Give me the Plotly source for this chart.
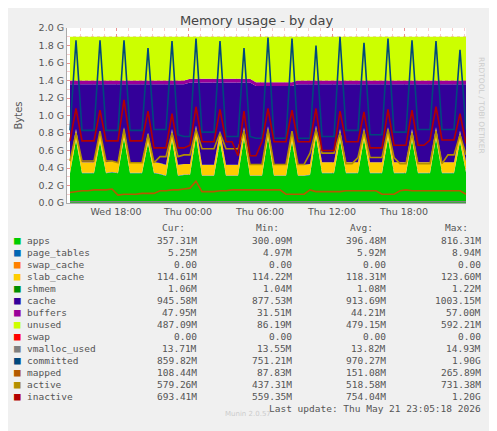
import pandas as pd
import plotly.graph_objects as go

# samples every 30 min, Wed 14:10 -> Thu 23:10 (values in G)
times = pd.date_range("2026-05-20 14:10", periods=67, freq="30min")

apps = [0.34, 0.72, 0.34, 0.34, 0.34, 0.70, 0.34, 0.35, 0.34, 0.74, 0.34, 0.34, 0.34, 0.68, 0.34, 0.33, 0.31,
        0.72, 0.31, 0.32, 0.32, 0.76, 0.31, 0.31, 0.31, 0.70, 0.31, 0.31, 0.31, 0.74, 0.31, 0.31, 0.31, 0.75,
        0.31, 0.31, 0.31, 0.70, 0.31, 0.31, 0.32, 0.76, 0.34, 0.34, 0.34, 0.72, 0.34, 0.34, 0.34, 0.73, 0.34,
        0.34, 0.34, 0.74, 0.34, 0.34, 0.34, 0.72, 0.34, 0.34, 0.34, 0.74, 0.34, 0.34, 0.34, 0.70, 0.35]
page_tables = [0.005] * 67
swap_cache = [0.0] * 67
slab_cache = [0.12] * 67
shmem = [0.001] * 67
cache = [0.89, 0.51, 0.89, 0.89, 0.89, 0.53, 0.89, 0.88, 0.89, 0.49, 0.89, 0.89, 0.89, 0.55, 0.89, 0.90, 0.92,
         0.51, 0.92, 0.91, 0.93, 0.49, 0.94, 0.94, 0.94, 0.55, 0.94, 0.94, 0.94, 0.51, 0.94, 0.90, 0.90, 0.46,
         0.90, 0.90, 0.90, 0.51, 0.92, 0.92, 0.91, 0.47, 0.89, 0.89, 0.89, 0.51, 0.89, 0.89, 0.89, 0.50, 0.89,
         0.89, 0.89, 0.49, 0.89, 0.89, 0.89, 0.51, 0.89, 0.89, 0.89, 0.49, 0.89, 0.89, 0.89, 0.53, 0.88]
buffers = [0.045] * 67
unused = [0.50, 0.50, 0.50, 0.50, 0.50, 0.50, 0.50, 0.50, 0.50, 0.50, 0.50, 0.50, 0.50, 0.50, 0.50, 0.50, 0.50,
          0.50, 0.50, 0.50, 0.48, 0.48, 0.48, 0.48, 0.48, 0.48, 0.48, 0.48, 0.48, 0.48, 0.48, 0.52, 0.52, 0.52,
          0.52, 0.52, 0.52, 0.52, 0.50, 0.50, 0.50, 0.50, 0.50, 0.50, 0.50, 0.50, 0.50, 0.50, 0.50, 0.50, 0.50,
          0.50, 0.50, 0.50, 0.50, 0.50, 0.50, 0.50, 0.50, 0.50, 0.50, 0.50, 0.50, 0.50, 0.50, 0.50, 0.50]
swap = [0.0] * 67

vmalloc_used = [0.014] * 67
committed = [0.83, 1.86, 0.83, 0.83, 0.83, 1.86, 0.83, 0.83, 0.83, 1.86, 0.83, 0.83, 0.83, 1.77, 0.84, 0.84, 0.84,
             1.85, 0.78, 0.76, 0.76, 1.88, 0.81, 0.81, 0.81, 1.85, 0.76, 0.76, 0.76, 1.77, 0.76, 0.74, 0.74, 1.89,
             0.74, 0.74, 0.74, 1.88, 0.74, 0.74, 0.74, 1.80, 0.76, 0.76, 0.76, 1.90, 0.83, 0.83, 0.83, 1.83, 0.78,
             0.78, 0.78, 1.88, 0.81, 0.81, 0.81, 1.86, 0.84, 0.84, 0.84, 1.85, 0.84, 0.84, 0.84, 1.75, 0.84]
mapped = [0.12, 0.13, 0.14, 0.14, 0.15, 0.15, 0.15, 0.16, 0.09, 0.10, 0.10, 0.10, 0.11, 0.11, 0.11, 0.14, 0.14,
          0.15, 0.15, 0.16, 0.17, 0.25, 0.13, 0.13, 0.13, 0.14, 0.14, 0.15, 0.15, 0.15, 0.15, 0.15, 0.15, 0.15,
          0.15, 0.15, 0.10, 0.10, 0.10, 0.10, 0.15, 0.13, 0.13, 0.13, 0.13, 0.13, 0.14, 0.14, 0.14, 0.14, 0.14,
          0.14, 0.10, 0.10, 0.10, 0.14, 0.15, 0.14, 0.14, 0.14, 0.14, 0.14, 0.14, 0.14, 0.14, 0.14, 0.10]
active = [0.48, 0.80, 0.48, 0.48, 0.48, 0.82, 0.48, 0.48, 0.46, 0.84, 0.46, 0.46, 0.46, 0.78, 0.46, 0.53, 0.53,
          0.80, 0.53, 0.55, 0.55, 0.84, 0.62, 0.62, 0.62, 0.80, 0.62, 0.62, 0.62, 0.82, 0.44, 0.44, 0.44, 0.84,
          0.44, 0.44, 0.44, 0.82, 0.44, 0.44, 0.57, 0.84, 0.57, 0.57, 0.57, 0.80, 0.45, 0.45, 0.52, 0.82, 0.52,
          0.52, 0.52, 0.84, 0.52, 0.45, 0.45, 0.80, 0.45, 0.45, 0.45, 0.82, 0.45, 0.55, 0.55, 0.78, 0.55]
inactive = [0.71, 1.08, 0.71, 0.71, 0.71, 1.06, 0.71, 0.71, 0.71, 1.18, 0.71, 0.71, 0.71, 1.05, 0.63, 0.63, 0.63,
            1.02, 0.63, 0.63, 0.66, 1.10, 0.70, 0.70, 0.70, 1.07, 0.70, 0.70, 0.54, 1.05, 0.54, 0.54, 0.70, 1.08,
            0.70, 0.70, 0.70, 1.06, 0.70, 0.70, 0.70, 1.08, 0.60, 0.60, 0.60, 1.05, 0.70, 0.70, 0.70, 1.04, 0.63,
            0.63, 0.63, 1.07, 0.66, 0.66, 0.66, 1.06, 0.66, 0.66, 0.72, 1.10, 0.72, 0.72, 0.72, 1.02, 0.68]

stacked = [("apps", apps, "#00CC00"), ("page_tables", page_tables, "#0066B3"),
           ("swap_cache", swap_cache, "#FF8000"), ("slab_cache", slab_cache, "#FFCC00"),
           ("shmem", shmem, "#008F00"), ("cache", cache, "#330099"),
           ("buffers", buffers, "#990099"), ("unused", unused, "#CCFF00"), ("swap", swap, "#FF0000")]
lines = [("vmalloc_used", vmalloc_used, "#808080"), ("committed", committed, "#00487D"),
         ("mapped", mapped, "#B35A00"), ("active", active, "#B38F00"), ("inactive", inactive, "#B30000")]

legend_names = ["apps", "page_tables", "swap_cache", "slab_cache", "shmem", "cache", "buffers", "unused",
                "swap", "vmalloc_used", "committed", "mapped", "active", "inactive"]
cur = ["357.31M", "5.25M", "0.00", "114.61M", "1.06M", "945.58M", "47.95M", "487.09M", "0.00",
       "13.71M", "859.82M", "108.44M", "579.26M", "693.41M"]
mins = ["300.09M", "4.97M", "0.00", "114.22M", "1.04M", "877.53M", "31.51M", "86.19M", "0.00",
        "13.55M", "751.21M", "87.83M", "437.31M", "559.35M"]
avgs = ["396.48M", "5.92M", "0.00", "118.31M", "1.08M", "913.69M", "44.21M", "479.15M", "0.00",
        "13.82M", "970.27M", "151.08M", "518.58M", "754.04M"]
maxs = ["816.31M", "8.94M", "0.00", "123.60M", "1.22M", "1003.15M", "57.00M", "592.21M", "0.00",
        "14.93M", "1.90G", "265.89M", "731.38M", "1.20G"]
colors = {n: c for n, _, c in stacked + lines}

fig = go.Figure()
for name, vals, color in stacked:
    fig.add_trace(go.Scatter(x=times, y=vals, name=name, stackgroup="mem", mode="lines",
                             line=dict(width=0, color=color), fillcolor=color))
for name, vals, color in lines:
    fig.add_trace(go.Scatter(x=times, y=vals, name=name, mode="lines", line=dict(width=1.6, color=color)))

# text positions below are in screenshot pixels; the page body adds an 8px offset
mono = "DejaVu Sans Mono"
ann = []
for label, xr in [("Cur:", 187), ("Min:", 281), ("Avg:", 375), ("Max:", 470)]:
    ann.append(dict(x=xr, y=227, text=label, xanchor="right"))
for i, n in enumerate(legend_names):
    y = 240 + i * 12
    ann.append(dict(x=12, y=y, text="■", xanchor="left", font=dict(color=colors[n], size=11)))
    ann.append(dict(x=25, y=y, text=n, xanchor="left"))
    for v, xr in [(cur[i], 199), (mins[i], 294), (avgs[i], 388), (maxs[i], 483)]:
        ann.append(dict(x=xr, y=y, text=v, xanchor="right"))
ann.append(dict(x=483, y=408, text="Last update: Thu May 21 23:05:18 2026", xanchor="right"))
annotations = []
for a in ann:
    f = dict(family=mono, size=9.5, color="#555555")
    f.update(a.pop("font", {}))
    annotations.append(dict(xref="paper", yref="paper", yanchor="middle", showarrow=False,
                            font=f, x=(a.pop("x") - 67) / 399, y=(203 - a.pop("y")) / 175, **a))
annotations.append(dict(xref="paper", yref="paper", x=(248 - 67) / 399, y=(203 - 420) / 175, showarrow=False,
                        text="Munin 2.0.57", font=dict(family="DejaVu Sans", size=7, color="#CCCCCC")))
annotations.append(dict(xref="paper", yref="paper", x=(488 - 67) / 399, y=(203 - 55) / 175, showarrow=False,
                        text="RRDTOOL / TOBI OETIKER", textangle=90,
                        font=dict(family="DejaVu Sans", size=7.5, color="#CCCCCC")))

fig.update_layout(
    width=497, height=431, margin=dict(l=59, r=39, t=20, b=236, autoexpand=False),
    paper_bgcolor="#F0F0F0", plot_bgcolor="white", showlegend=False,
    title=dict(text="Memory usage - by day", x=0.5, y=1 - 12 / 431, xanchor="center", yanchor="middle",
               font=dict(family="DejaVu Sans", size=13, color="#444444")),
    annotations=annotations,
    xaxis=dict(range=["2026-05-20 13:55", "2026-05-21 23:10"], automargin=False,
               tickvals=pd.to_datetime(["2026-05-20 18:00", "2026-05-21 00:00", "2026-05-21 06:00",
                                        "2026-05-21 12:00", "2026-05-21 18:00"]),
               ticktext=["Wed 18:00", "Thu 00:00", "Thu 06:00", "Thu 12:00", "Thu 18:00"],
               showgrid=True, gridcolor="rgba(230,120,120,0.7)", griddash="dot", gridwidth=1,
               minor=dict(dtick=3600000, showgrid=True, gridcolor="rgba(240,170,170,0.6)", griddash="dot"),
               showline=True, linecolor="#AAAAAA", ticks="",
               tickfont=dict(family="DejaVu Sans", size=9.5, color="#555555")),
    yaxis=dict(range=[0, 2.0], automargin=False,
               tickvals=[0, 0.2, 0.4, 0.6, 0.8, 1.0, 1.2, 1.4, 1.6, 1.8, 2.0],
               ticktext=["0.0 G", "0.2 G", "0.4 G", "0.6 G", "0.8 G", "1.0 G", "1.2 G", "1.4 G",
                         "1.6 G", "1.8 G", "2.0 G"],
               showgrid=True, gridcolor="rgba(230,120,120,0.7)", griddash="dot",
               minor=dict(dtick=0.1, showgrid=True, gridcolor="rgba(240,170,170,0.6)", griddash="dot"),
               showline=True, linecolor="#AAAAAA", zeroline=False, ticks="",
               title=dict(text="Bytes", font=dict(family="DejaVu Sans", size=10, color="#555555"), standoff=14),
               tickfont=dict(family="DejaVu Sans", size=9.5, color="#555555")),
)

fig.write_html("out.html")
